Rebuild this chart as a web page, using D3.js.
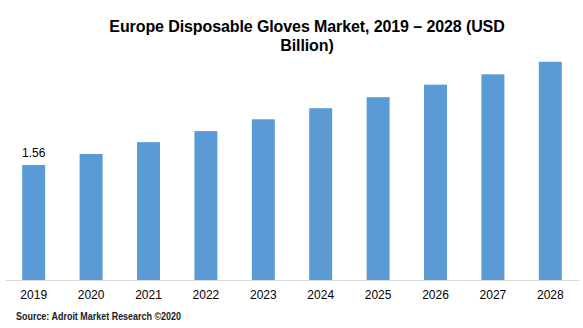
<!DOCTYPE html>
<html><head><meta charset="utf-8">
<script src="https://cdn.jsdelivr.net/npm/d3@7"></script>
<style>body{margin:0;background:#fff}svg{display:block}</style>
</head><body>
<svg id="c" width="583" height="328"></svg>
<script>
const years = ["2019","2020","2021","2022","2023","2024","2025","2026","2027","2028"];
const values = [1.56, 1.71, 1.87, 2.02, 2.18, 2.33, 2.48, 2.65, 2.79, 2.96];
const labels = ["1.56","","","","","","","","",""];
const titleLines = ["Europe Disposable Gloves Market, 2019 \u2013 2028 (USD", "Billion)"];
const source = "Source: Adroit Market Research \u00a92020";

const svg = d3.select("#c");
const x = d3.scaleBand().domain(years).range([5, 579]).paddingInner(0.6).paddingOuter(0.3);
const y = d3.scaleLinear().domain([0, 1.56]).range([280, 165]);

svg.selectAll("rect.bar").data(values).enter().append("rect")
  .attr("x", (d,i) => x(years[i])).attr("width", x.bandwidth())
  .attr("y", d => y(d)).attr("height", d => 280 - y(d))
  .attr("fill", "#5B9BD5");

const ax = svg.append("g").attr("transform", "translate(0,280)")
  .call(d3.axisBottom(x).tickSize(0).tickPadding(10));
ax.select(".domain").attr("stroke", "#d9d9d9").attr("stroke-width", 1);
ax.selectAll("text").attr("font-family", "Liberation Sans, Arial, sans-serif").attr("font-size", 12).attr("fill", "#000");

svg.selectAll("text.lbl").data(values).enter().append("text")
  .attr("x", (d,i) => x(years[i]) + x.bandwidth()/2).attr("y", d => y(d) - 8)
  .attr("text-anchor", "middle").attr("font-family", "Liberation Sans, Arial, sans-serif")
  .attr("font-size", 12).attr("fill", "#000").text((d,i) => labels[i]);

svg.selectAll("text.title").data(titleLines).enter().append("text")
  .attr("x", 307).attr("y", (d,i) => 32 + i*19).attr("text-anchor", "middle")
  .attr("font-family", "Liberation Sans, Arial, sans-serif").attr("font-weight", "bold")
  .attr("font-size", 16).attr("letter-spacing", -0.1).attr("fill", "#000").text(d => d);

svg.append("text").attr("x", 16).attr("y", 320)
  .attr("font-family", "Liberation Sans Narrow, Arial Narrow, sans-serif").attr("font-weight", "bold")
  .attr("font-size", 10).attr("textLength", 165).attr("lengthAdjust", "spacingAndGlyphs")
  .attr("fill", "#1a1a1a").text(source);
</script>
</body></html>
